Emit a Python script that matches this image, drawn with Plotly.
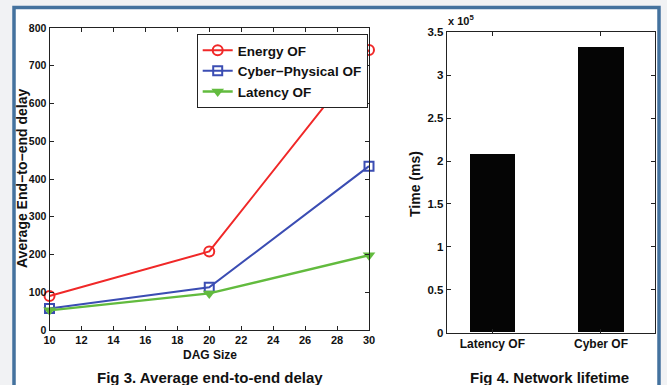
import plotly.graph_objects as go

# ---- data ----
dag_size = [10, 20, 30]
energy_of = [90, 208, 742]
cyber_physical_of = [57, 113, 434]
latency_of = [52, 97, 198]

lifetime_labels = ["Latency OF", "Cyber OF"]
lifetime_pos = [1, 2]
lifetime_ms = [2.08e5, 3.33e5]

W, H = 667, 385
FONT = "Arial, Liberation Sans, Helvetica, sans-serif"


def px(x):
    return x / W


def py(y):
    return 1 - y / H


fig = go.Figure()

fig.add_trace(go.Scatter(
    x=dag_size, y=energy_of, name="Energy OF", mode="lines+markers",
    line=dict(color="#f02828", width=2),
    marker=dict(symbol="circle-open", size=10, color="#f02828", line=dict(width=2)),
    cliponaxis=False, xaxis="x", yaxis="y"))
fig.add_trace(go.Scatter(
    x=dag_size, y=cyber_physical_of, name="Cyber\u2212Physical OF", mode="lines+markers",
    line=dict(color="#3b4db3", width=2),
    marker=dict(symbol="square-open", size=9, color="#3b4db3", line=dict(width=2)),
    cliponaxis=False, xaxis="x", yaxis="y"))
fig.add_trace(go.Scatter(
    x=dag_size, y=latency_of, name="Latency OF", mode="lines+markers",
    line=dict(color="#62bb3e", width=2.5),
    marker=dict(symbol="triangle-down", size=11, color="#62bb3e"),
    cliponaxis=False, xaxis="x", yaxis="y"))

fig.add_trace(go.Bar(
    x=lifetime_pos, y=lifetime_ms, width=0.42, marker=dict(color="#050505", line=dict(width=0)),
    showlegend=False, xaxis="x2", yaxis="y2"))

axis_common = dict(showline=True, linecolor="#222", linewidth=1, mirror="ticks",
                   ticks="inside", ticklen=4, tickcolor="#222", showgrid=False,
                   zeroline=False, automargin=False)

fig.update_layout(
    width=W, height=H,
    margin=dict(l=0, r=0, t=0, b=0, autoexpand=False),
    paper_bgcolor="#f1f2f4",
    plot_bgcolor="white",
    font=dict(family=FONT, color="#111"),
    xaxis=dict(domain=[px(49.5), px(369)], range=[10, 30], tickvals=list(range(10, 31, 2)),
               tickfont=dict(size=11, weight="bold"), anchor="y", **axis_common),
    yaxis=dict(domain=[py(330), py(28)], range=[0, 800], tickvals=list(range(0, 801, 100)),
               tickfont=dict(size=10.5, weight="bold"), anchor="x", **axis_common),
    xaxis2=dict(domain=[px(446.7), px(655.3)], range=[0.58, 2.5], tickvals=lifetime_pos,
                ticktext=lifetime_labels, tickfont=dict(size=12, weight="bold"),
                anchor="y2", **axis_common),
    yaxis2=dict(domain=[py(332.7), py(32.3)], range=[0, 3.5e5],
                tickvals=[i * 0.5e5 for i in range(8)],
                ticktext=["0", "0.5", "1", "1.5", "2", "2.5", "3", "3.5"],
                tickfont=dict(size=11.5, weight="bold"), anchor="x2", **axis_common),
    legend=dict(x=px(196.7), y=py(34), xanchor="left", yanchor="top",
                bgcolor="white", bordercolor="#222", borderwidth=1,
                font=dict(size=13.5, weight="bold", color="#111"),
                itemwidth=30, tracegroupgap=0),
    showlegend=True,
    bargap=0,
)

# frame
fig.add_shape(type="rect", xref="paper", yref="paper",
              x0=px(14), x1=px(659), y0=-0.2, y1=py(7.5),
              line=dict(color="#44729e", width=3.5), fillcolor="white", layer="below")

ann = [
    dict(text="<b>DAG Size</b>", x=px(210), y=py(355), size=12, angle=0),
    dict(text="<b>Average End\u2212to\u2212end delay</b>", x=px(22), y=py(179), size=14, angle=-90),
    dict(text="<b>Time (ms)</b>", x=px(415), y=py(184), size=14, angle=-90),
    dict(text="<b>Fig 3. Average end-to-end delay</b>", x=px(209.5), y=py(377), size=15, angle=0),
    dict(text="<b>Fig 4. Network lifetime</b>", x=px(549.5), y=py(377), size=15, angle=0),
]
for a in ann:
    fig.add_annotation(text=a["text"], x=a["x"], y=a["y"], xref="paper", yref="paper",
                       xanchor="center", yanchor="middle", showarrow=False,
                       textangle=a["angle"], font=dict(size=a["size"], family=FONT, color="#111"))

fig.add_annotation(text="<b>x 10<sup>5</sup></b>", x=px(446), y=py(20), xref="paper", yref="paper",
                   xanchor="left", yanchor="middle", showarrow=False,
                   font=dict(size=11, family=FONT, color="#111"))

fig.write_html(
    "out.html",
    config={"displayModeBar": False},
    post_script="document.body.style.margin='0';document.body.style.overflow='hidden';",
)
